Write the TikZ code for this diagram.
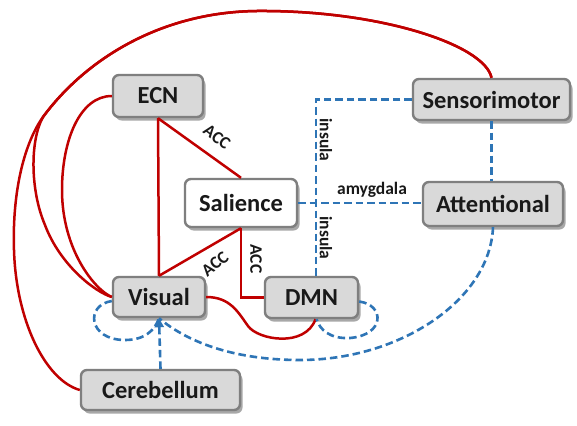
\documentclass[tikz,border=0pt]{standalone}
\usepackage{fontspec}
\setmainfont{Carlito}
\usetikzlibrary{shadows,arrows.meta,calc}
\definecolor{netred}{HTML}{C00000}
\definecolor{netblue}{HTML}{2E75B6}
\definecolor{boxgray}{HTML}{D9D9D9}
\definecolor{boxedge}{HTML}{7F7F7F}
\begin{document}
\begin{tikzpicture}[x=1pt,y=-1pt,
  net/.style={draw=boxedge, line width=2.4pt, fill=boxgray, rounded corners=6pt, inner sep=0pt,
    font=\bfseries\fontsize{24.5}{27}\selectfont, text=black!90,
    drop shadow={shadow xshift=2.5pt, shadow yshift=-3.5pt, opacity=0.45, fill=black!75}},
  redline/.style={draw=netred, line width=2.5pt},
  blueline/.style={draw=netblue, line width=2.6pt, dash pattern=on 7.5pt off 4pt},
  lab/.style={font=\bfseries\fontsize{17.5}{19}\selectfont, inner sep=0.5pt, text=black!90}]
\fill[white] (0,0) rectangle (577,425);
\useasboundingbox (0,0) rectangle (577,425);

\node[net, minimum width=90pt, minimum height=42pt] (ecn) at (158,96) {ECN};
\node[net, minimum width=157pt, minimum height=41pt] (sm) at (491.5,99.5) {Sensorimotor};
\node[net, fill=white, minimum width=112pt, minimum height=48pt] (sal) at (241,203) {Salience};
\node[net, minimum width=140pt, minimum height=44pt] (att) at (493,204) {Attentional};
\node[net, minimum width=92pt, minimum height=40pt] (vis) at (159,297) {Visual};
\node[net, minimum width=93pt, minimum height=41pt] (dmn) at (311.5,297.5) {DMN};
\node[net, minimum width=159pt, minimum height=40pt] (cer) at (160.5,390) {Cerebellum};

\coordinate (split) at (43,117);

% red connections
\draw[redline] (ecn.south) -- (vis.north);
\draw[redline] (ecn.south) -- (sal.north);
\draw[redline] (vis.north) -- (sal.south);
\draw[redline] (sal.south) |- (dmn.west);
\draw[redline] (vis.east) .. controls (230,297) and (238,312) .. (248,326)
  .. controls (258,340) and (305,348) .. ($(dmn.south)+(4,0)$);
\draw[redline] (ecn.west) .. controls (80,96) and (62,140) .. (62,190)
  .. controls (62,250) and (95,290) .. (vis.west);
\draw[redline] (sm.north) .. controls (485,45) and (380,10) .. (257,11)
  .. controls (160,12) and (85,60) .. (split)
  .. controls (30,140) and (30,190) .. (45,225)
  .. controls (60,265) and (95,292) .. (vis.west);
\draw[redline] (sm.north) .. controls (485,45) and (380,10) .. (257,11)
  .. controls (160,12) and (85,60) .. (split)
  .. controls (25,142) and (12,190) .. (14,250)
  .. controls (16,320) and (45,380) .. (cer.west);

% blue connections
\draw[blueline] (sm.west) -| ($(dmn.north)+(4.5,0)$);
\draw[blueline] (sal.east) -- (sal.east -| att.west);
\draw[blueline] (sm.south) -- (sm.south |- att.north);
\draw[blueline] (att.south) .. controls (490,300) and (400,360) .. (300,360)
  .. controls (230,360) and (185,340) .. (vis.south);
\draw[blueline] ($(vis.west)+(0,4)$) .. controls (85,305) and (88,340) .. (125,340)
  .. controls (145,340) and (155,330) .. (vis.south);
\draw[blueline] ($(dmn.east)+(0,4)$) .. controls (385,305) and (385,335) .. (350,338)
  .. controls (330,339) and (320,330) .. ($(dmn.south)+(5,0)$);
\draw[blueline, -{Triangle[length=9pt,width=9pt]}] (cer.north) -- (vis.south);

% labels
\node[lab, rotate=-37] (acc1) at (217,137) {ACC};
\node[lab, rotate=39] (acc2) at (215,264) {ACC};
\node[lab, rotate=-90] (acc3) at (256,259) {ACC};
\node[lab, rotate=-90] (ins1) at (326,140) {insula};
\node[lab, rotate=-90] (ins2) at (326,238) {insula};
\node[lab] (amy) at (372,190) {amygdala};
\end{tikzpicture}
\end{document}
